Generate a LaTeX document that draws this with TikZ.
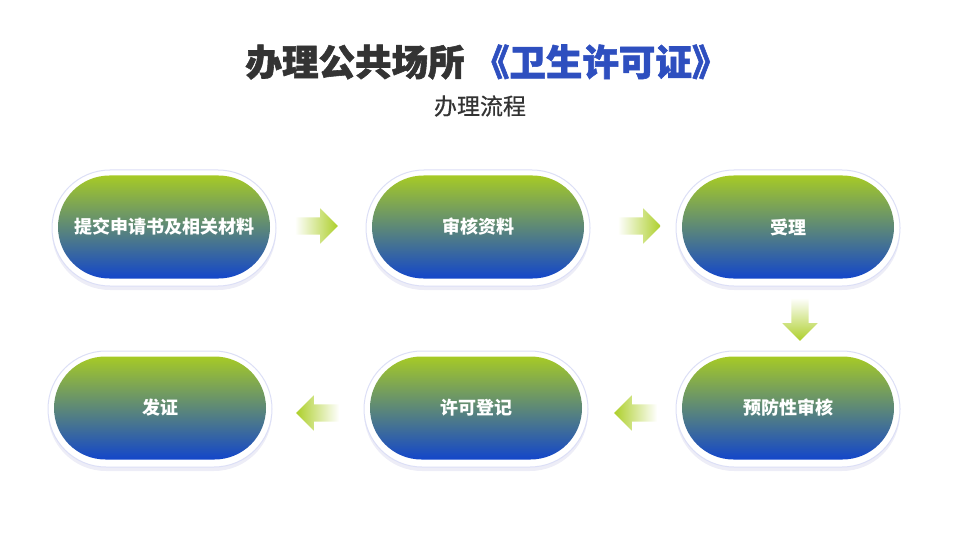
\documentclass[tikz,border=0pt]{standalone}
\usepackage{fontspec}
\setmainfont{Noto Sans CJK SC}
\newfontfamily\titlefont[BoldFeatures={FakeBold=1.6}]{Noto Sans CJK SC}
\newfontfamily\subfont[FakeBold=0.6]{Noto Sans CJK SC}
\usepackage{xcolor}
\definecolor{colTitle}{HTML}{333333}
\definecolor{colTitleBlue}{HTML}{2E4FBF}
\definecolor{colTop}{HTML}{A6CA26}
\definecolor{colBottom}{HTML}{1346CA}
\definecolor{colArrow}{HTML}{ADCF2A}
\definecolor{colHalo}{HTML}{DCDFF6}
\usepackage{tikz}
\usetikzlibrary{positioning, calc, shapes.arrows, shadows}
\tikzset{
	halo/.style={draw=colHalo, line width=1pt, fill=white, rounded corners=58pt, minimum width=224pt, minimum height=116pt,
		drop shadow={shadow xshift=0pt, shadow yshift=-4pt, opacity=0.10, fill=blue!40!gray}},
	stagebox/.style={rounded corners=51.5pt, minimum width=212pt, minimum height=103pt, top color=colTop, bottom color=colBottom,
		text=white, font=\fontsize{18}{21}\selectfont\bfseries},
	flowarr/.style={single arrow, minimum height=43pt, inner xsep=0pt, inner ysep=8.5pt, single arrow head extend=9pt},
}

\begin{document}
\begin{tikzpicture}[
		x=1pt, y=-1pt,
		rightarr/.style={flowarr, left color=white, right color=colArrow},
		leftarr/.style={flowarr, shape border rotate=180, left color=colArrow, right color=white},
		downarr/.style={flowarr, inner xsep=8.5pt, inner ysep=0pt, shape border rotate=270, top color=white, bottom color=colArrow},
	]
		\useasboundingbox (0,0) rectangle (960,540);

		% Title
		\node[font=\titlefont\fontsize{36.5}{42}\selectfont\bfseries, text=colTitle] (title) at (487,62)
			{办理公共场所 {\color{colTitleBlue}《卫生许可证》}};
		\node[font=\subfont\fontsize{23}{26}\selectfont, text=colTitle] (subtitle) at (480,106) {办理流程};

		% First row
		\node[halo] (h1) at (164,228) {};
		\node[stagebox] (submit) at (164,227) {提交申请书及相关材料};
		\node[halo] (h2) at (478,228) {};
		\node[stagebox] (review) at (478,227) {审核资料};
		\node[halo] (h3) at (788,228) {};
		\node[stagebox] (accept) at (788,227) {受理};

		% Second row
		\node[halo] (h4) at (788,409) {};
		\node[stagebox] (prevent) at (788,408) {预防性审核};
		\node[halo] (h5) at (476,409) {};
		\node[stagebox] (register) at (476,408) {许可登记};
		\node[halo] (h6) at (160,409) {};
		\node[stagebox] (issue) at (160,408) {发证};

		% Arrows
		\node[rightarr] (a1) at (312,226) {};
		\node[rightarr] (a2) at (635,226) {};
		\node[downarr] (a3) at (800,315) {};
		\node[leftarr] (a4) at (640,413) {};
		\node[leftarr] (a5) at (322,413) {};
	\end{tikzpicture}
\end{document}
